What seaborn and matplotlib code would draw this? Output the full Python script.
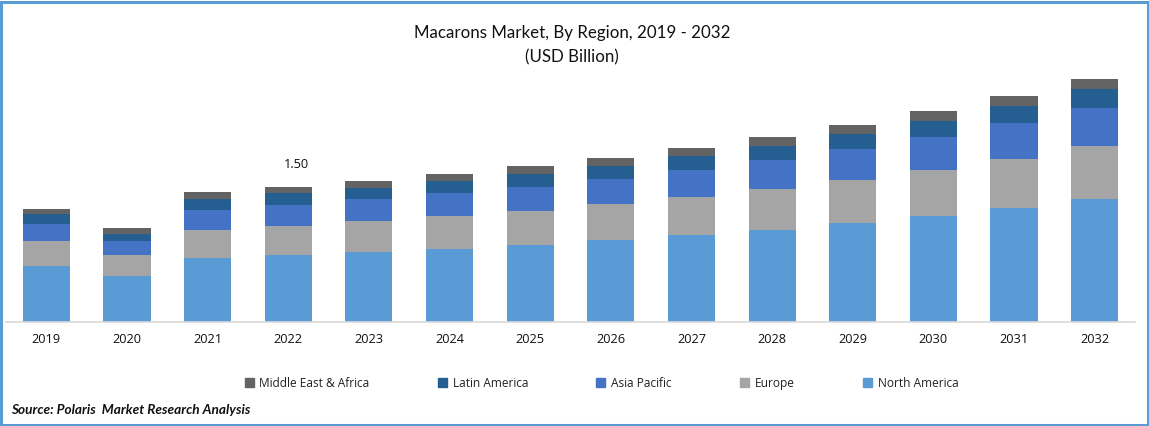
import numpy as np
import matplotlib
matplotlib.use("Agg")
import matplotlib.pyplot as plt
from matplotlib.patches import Patch, Rectangle
import seaborn as sns

years = [2019, 2020, 2021, 2022, 2023, 2024, 2025, 2026, 2027, 2028, 2029, 2030, 2031, 2032]
north_america = [.622, .511, .711, .744, .778, .811, .856, .911, .967, 1.022, 1.1, 1.178, 1.267, 1.367]
europe = [.278, .233, .311, .322, .344, .367, .378, .4, .422, .456, .478, .511, .544, .589]
asia_pacific = [.189, .156, .222, .233, .244, .256, .267, .278, .3, .322, .344, .367, .4, .422]
latin_america = [.111, .078, .122, .133, .122, .133, .144, .144, .156, .156, .167, .178, .189, .211]
middle_east = [.056, .067, .078, .067, .078, .078, .089, .089, .089, .1, .1, .111, .111, .111]

regions = ["North America", "Europe", "Asia Pacific", "Latin America", "Middle East & Africa"]
series = [north_america, europe, asia_pacific, latin_america, middle_east]
colors = ["#5B9BD5", "#A5A5A5", "#4472C4", "#255E91", "#636363"]

W, H = 1149, 426
sns.set_theme(style="white")
plt.rcParams["font.family"] = ["Open Sans", "DejaVu Sans"]

fig = plt.figure(figsize=(W / 100, H / 100), dpi=100)
ax = fig.add_axes([6 / W, 1 - 322 / H, 1129 / W, 252 / H])

# stack the regions
bottom = np.zeros(len(years))
for name, vals, col in zip(regions, series, colors):
    sns.barplot(x=years, y=vals, bottom=bottom, color=col, width=0.585, saturation=1, linewidth=0, ax=ax)
    bottom = bottom + np.array(vals)

ax.set_xlim(-0.5, 13.5)
ax.set_ylim(0, 2.8)
ax.set_yticks([])
ax.tick_params(axis="x", length=0, pad=8, labelsize=9.2, labelcolor="#111111")
sns.despine(ax=ax, left=True)
ax.spines["bottom"].set_color("#D9D9D9")
ax.spines["bottom"].set_linewidth(1.2)

ax.text(3.1, 1.755, "1.50", ha="center", va="center", fontsize=9.2, color="#111111")

fig.text(572 / W, 1 - 33 / H, "Macarons Market, By Region, 2019 - 2032", ha="center", va="center",
         fontsize=12.2, color="#111111", family="Lato")
fig.text(572 / W, 1 - 57 / H, "(USD Billion)", ha="center", va="center", fontsize=12.2, color="#111111", family="Lato")

# legend runs the other way round
handles = [Patch(color=c, label=r) for r, c in zip(regions[::-1], colors[::-1])]
fig.legend(handles=handles, ncol=5, frameon=False, loc="center", bbox_to_anchor=(601.5 / W, 1 - 383.5 / H),
           fontsize=8.6, handlelength=0.75, handleheight=0.75, handletextpad=0.5, columnspacing=5.7,
           labelcolor="#222222")

fig.text(11 / W, 1 - 409.5 / H, "Source: Polaris  Market Research Analysis", ha="left", va="center",
         fontsize=9.8, fontweight="bold", fontstyle="italic", color="#111111", family="Lato")

fig.add_artist(Rectangle((1 / W, 1 / H), 1 - 2.5 / W, 1 - 2.5 / H, transform=fig.transFigure,
                         fill=False, edgecolor="#5B9BD5", linewidth=2.2))

fig.savefig("out.png", dpi=100)
